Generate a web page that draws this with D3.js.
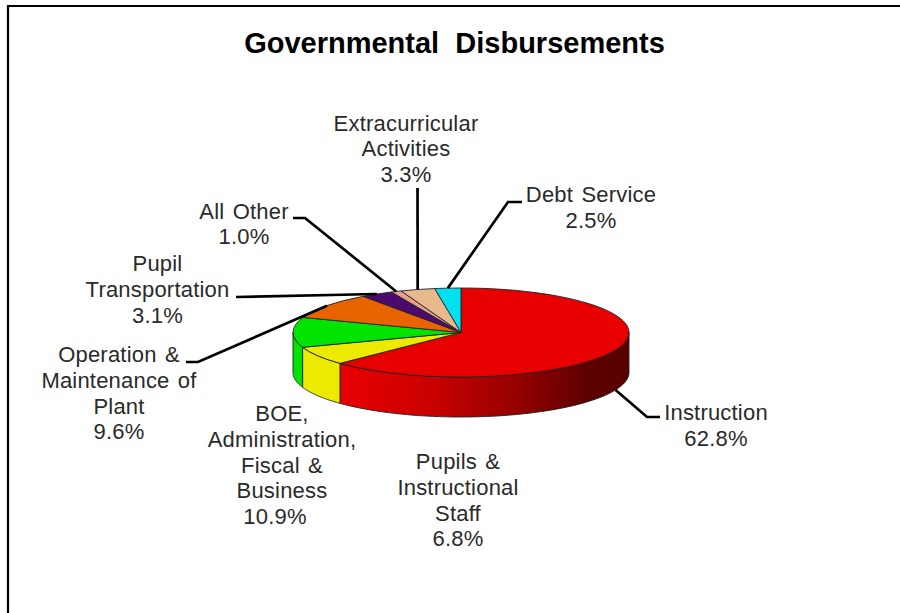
<!DOCTYPE html>
<html>
<head>
<meta charset="utf-8">
<script src="https://cdn.jsdelivr.net/npm/d3@7/dist/d3.min.js"></script>
<style>
  html, body { margin: 0; padding: 0; background: #fff; }
  svg { display: block; }
  text { font-family: "Liberation Sans", Arial, sans-serif; }
</style>
</head>
<body>
<svg id="chart"></svg>
<script>
// Budget categories, clockwise from twelve o'clock
const categories = ["Instruction", "Pupils & Instructional Staff", "BOE, Administration, Fiscal & Business",
  "Operation & Maintenance of Plant", "Pupil Transportation", "All Other", "Extracurricular Activities", "Debt Service"];
const shares = [62.8, 6.8, 10.9, 9.6, 3.1, 1.0, 3.3, 2.5];
const sliceColors = ["#e80000", "#ecea00", "#00e400", "#e86400", "#4b0a6e", "#e8a08c", "#e8b98c", "#00e0f0"];
const labelLines = [
  ["Instruction", "62.8%"],
  ["Pupils &", "Instructional", "Staff", "6.8%"],
  ["BOE,", "Administration,", "Fiscal &", "Business", "10.9%"],
  ["Operation &", "Maintenance of", "Plant", "9.6%"],
  ["Pupil", "Transportation", "3.1%"],
  ["All Other", "1.0%"],
  ["Extracurricular", "Activities", "3.3%"],
  ["Debt Service", "2.5%"]
];

const width = 900, height = 613;
const cx = 461, cy = 332.5, rx = 168, ry = 44.5, depth = 40;

// Label blocks: centre x, first baseline y, and the leader's outer end and knee (null = no leader)
const labelLayout = [
  { x: 716, y: 420, leader: [[660, 417], [647, 417]] },
  { x: 458, y: 469, leader: null },
  { x: 282, y: 421, leader: null },
  { x: 119, y: 362, leader: [[186, 362], [198, 362]] },
  { x: 157.5, y: 271, leader: [[236, 297]] },
  { x: 244, y: 218.5, leader: [[293, 218], [305, 218]] },
  { x: 406, y: 130.5, leader: [[417.5, 188]] },
  { x: 591, y: 202, leader: [[522, 202], [508, 202]] }
];

const svg = d3.select("#chart").attr("width", width).attr("height", height);

// The frame shows only its top and left edges; the others fall outside the page
svg.append("path").attr("d", d3.line()([[8, height], [8, 6], [width, 6]]))
  .attr("fill", "none").attr("stroke", "#000").attr("stroke-width", 2.2);

svg.append("text").attr("x", 454.5).attr("y", 53).attr("text-anchor", "middle")
  .attr("font-size", 29).attr("font-weight", 700).attr("fill", "#000")
  .style("white-space", "pre").text("Governmental  Disbursements");

const pie = d3.pie().value(d => d).sort(null);
const arcs = pie(shares);

// Projected pie: angle measured clockwise from the top of the ellipse
const px = a => cx + rx * Math.sin(a);
const py = a => cy - ry * Math.cos(a);

const defs = svg.append("defs");
const grad = defs.append("linearGradient").attr("id", "wallRed").attr("gradientUnits", "userSpaceOnUse")
  .attr("x1", 340).attr("x2", 629).attr("y1", 0).attr("y2", 0);
[["0%", "#ea0000"], ["30%", "#cc0000"], ["60%", "#980000"], ["85%", "#5e0000"], ["100%", "#580000"]].forEach(s =>
  grad.append("stop").attr("offset", s[0]).attr("stop-color", s[1]));

// Curved outer wall: only the front half of the ellipse is visible
const wallStart = Math.PI / 2, wallEnd = 3 * Math.PI / 2;
const wall = svg.append("g");
arcs.forEach((d, i) => {
  const a0 = Math.max(d.startAngle, wallStart), a1 = Math.min(d.endAngle, wallEnd);
  if (a1 <= a0) return;
  const top = d3.range(0, 61).map(k => a0 + (a1 - a0) * k / 60);
  const pts = top.map(a => [px(a), py(a)]).concat(top.slice().reverse().map(a => [px(a), py(a) + depth]));
  wall.append("path")
    .attr("d", d3.line()(pts) + "Z")
    .attr("fill", i === 0 ? "url(#wallRed)" : sliceColors[i])
    .attr("stroke", "#222").attr("stroke-width", 0.9);
});

// Top face, drawn with d3.arc and flattened into an ellipse
const arcGen = d3.arc().innerRadius(0).outerRadius(rx);
const face = svg.append("g").attr("transform", `translate(${cx},${cy}) scale(1,${ry / rx})`);
face.selectAll("path").data(arcs).join("path")
  .attr("d", arcGen)
  .attr("aria-label", (d, i) => categories[i])
  .attr("fill", (d, i) => sliceColors[i])
  .attr("stroke", "#222").attr("stroke-width", 0.9)
  .attr("vector-effect", "non-scaling-stroke");

// Leaders run from the label to the rim at each slice's mid angle
const leaderLine = d3.line();
arcs.forEach((d, i) => {
  const lay = labelLayout[i];
  if (!lay.leader) return;
  const mid = (d.startAngle + d.endAngle) / 2;
  const onWall = mid > wallStart && mid < wallEnd;
  const rim = [px(mid), py(mid) + (onWall ? depth : 0)];
  svg.append("path")
    .attr("d", leaderLine(lay.leader.concat([rim])))
    .attr("fill", "none").attr("stroke", "#000").attr("stroke-width", 2.7);
});

// Labels; the last line of each block carries the percentage
labelLines.forEach((lines, i) => {
  const lay = labelLayout[i];
  const t = svg.append("text").attr("text-anchor", "middle").attr("font-size", 22)
    .attr("letter-spacing", 0.2).attr("word-spacing", 2).attr("fill", "#2a2a2a");
  lines.forEach((s, k) => {
    const isLowPct = i === 2 && k === lines.length - 1;
    t.append("tspan").attr("x", isLowPct ? lay.x - 7 : lay.x).attr("y", lay.y + k * 25.8).text(s);
  });
});
</script>
</body>
</html>
